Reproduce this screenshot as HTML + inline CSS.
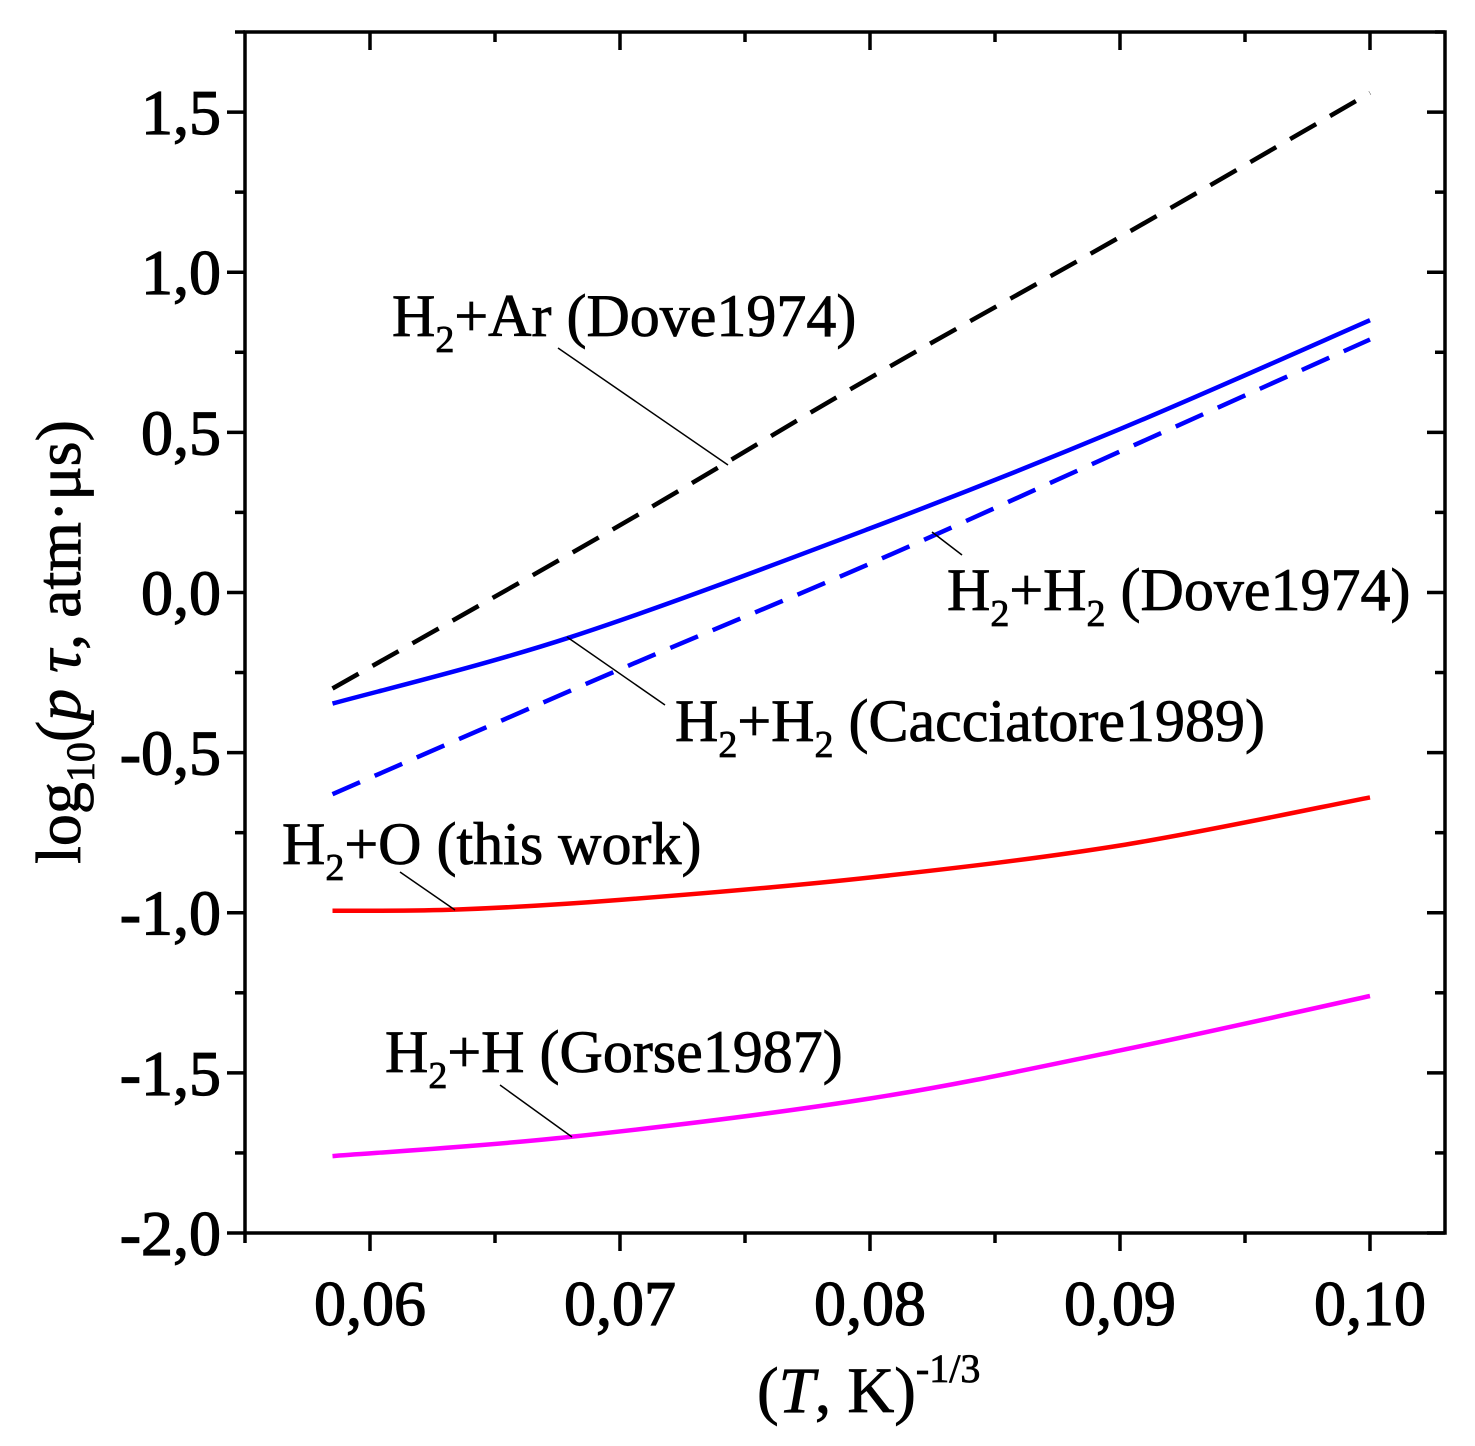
<!DOCTYPE html>
<html><head><meta charset="utf-8"><style>
body{margin:0;background:#fff}
text{font-family:"Liberation Serif",serif;fill:#000}
</style></head><body>
<svg id="chart" width="1475" height="1446" xmlns="http://www.w3.org/2000/svg" style="position:absolute;left:0;top:0">
<g id="axes"></g>
<g id="series"></g>
</svg>
<script>
const xTicks=[0.06,0.07,0.08,0.09,0.10];
const xTickLabels=["0,06","0,07","0,08","0,09","0,10"];
const yTicks=[-2,-1.5,-1,-0.5,0,0.5,1,1.5];
const yTickLabels=["-2,0","-1,5","-1,0","-0,5","0,0","0,5","1,0","1,5"];
const arX=[0.0585,0.07,0.08,0.09,0.1];
const arY=[-0.30,0.21,0.67,1.11,1.56];
const caccX=[0.0585,0.068,0.08,0.09,0.1];
const caccY=[-0.347,-0.14,0.20,0.51,0.85];
const doveX=[0.0585,0.07,0.08,0.09,0.1];
const doveY=[-0.63,-0.24,0.09,0.44,0.79];
const oX=[0.0585,0.0635,0.07,0.08,0.09,0.1];
const oY=[-0.994,-0.99,-0.96,-0.89,-0.79,-0.64];
const hX=[0.0585,0.068,0.08,0.09,0.1];
const hY=[-1.76,-1.70,-1.58,-1.43,-1.26];
const L=245,R=1445,T=32,B=1233,X0=0.055,X1=0.103,Y0=-2,Y1=1.75;
const sx=v=>L+(v-X0)/(X1-X0)*(R-L);
const sy=v=>B-(v-Y0)/(Y1-Y0)*(B-T);
const NS="http://www.w3.org/2000/svg";
function mk(tag,attrs,parent){const e=document.createElementNS(NS,tag);for(const k in attrs)e.setAttribute(k,attrs[k]);parent.appendChild(e);return e;}
const ax=document.getElementById('axes'),se=document.getElementById('series');
let fr=mk('rect',{x:L,y:T,width:R-L,height:B-T,fill:'none',stroke:'#000','stroke-width':3.5},ax);


xTicks.forEach((v,i)=>{const x=sx(v);
 mk('line',{x1:x,x2:x,y1:B,y2:B+18,stroke:'#000','stroke-width':3.5},ax);
 mk('line',{x1:x,x2:x,y1:T,y2:T+18,stroke:'#000','stroke-width':3.5},ax);
 if(i<xTicks.length-1){const m=sx(v+0.005);mk('line',{x1:m,x2:m,y1:B,y2:B+10,stroke:'#000','stroke-width':3.5},ax);mk('line',{x1:m,x2:m,y1:T,y2:T+10,stroke:'#000','stroke-width':3.5},ax);}
 const t=mk('text',{x:x,y:B+92,'text-anchor':'middle','font-size':64,stroke:'#000','stroke-width':1.2},ax);t.textContent=xTickLabels[i];
 
 
});
{const m=sx(0.055);mk('line',{x1:m,x2:m,y1:B,y2:B+10,stroke:'#000','stroke-width':3.5},ax);}
yTicks.forEach((v,i)=>{const y=sy(v);
 mk('line',{x1:L-18,x2:L,y1:y,y2:y,stroke:'#000','stroke-width':3.5},ax);
 mk('line',{x1:R-18,x2:R,y1:y,y2:y,stroke:'#000','stroke-width':3.5},ax);
 const m=sy(v+0.25);mk('line',{x1:L-10,x2:L,y1:m,y2:m,stroke:'#000','stroke-width':3.5},ax);mk('line',{x1:R-10,x2:R,y1:m,y2:m,stroke:'#000','stroke-width':3.5},ax);
 const t=mk('text',{x:L-24,y:y+22,'text-anchor':'end','font-size':64,stroke:'#000','stroke-width':1.2},ax);t.textContent=yTickLabels[i];
 
 
});
function line(xs,ys,color,dash,name){
 const P=xs.map((x,i)=>[sx(x),sy(ys[i])]);
 let d='M'+P[0][0].toFixed(1)+','+P[0][1].toFixed(1);
 for(let i=0;i<P.length-1;i++){
  const p0=P[i-1]||P[i],p1=P[i],p2=P[i+1],p3=P[i+2]||P[i+1];
  const c1=[p1[0]+(p2[0]-p0[0])/6,p1[1]+(p2[1]-p0[1])/6];
  const c2=[p2[0]-(p3[0]-p1[0])/6,p2[1]-(p3[1]-p1[1])/6];
  d+=' C'+c1.map(v=>v.toFixed(1)).join(',')+' '+c2.map(v=>v.toFixed(1)).join(',')+' '+p2.map(v=>v.toFixed(1)).join(',');
 }
 const p=mk('path',{d:d,fill:'none',stroke:color,'stroke-width':4.5},se);
 if(dash)p.setAttribute('stroke-dasharray','30,16');
 
 
}
line(arX,arY,'#000',true,'h2-ar-dove1974-line');
line(doveX,doveY,'#0000ff',true,'h2-h2-dove1974-line');
line(caccX,caccY,'#0000ff',false,'h2-h2-cacciatore1989-line');
line(oX,oY,'#ff0000',false,'h2-o-this-work-line');
line(hX,hY,'#ff00ff',false,'h2-h-gorse1987-line');
</script>
<svg style="position:absolute;left:0;top:0" width="1475" height="1446">
<g stroke="#000" stroke-width="1.5">
<line x1="558" y1="348" x2="728" y2="465"/>
<line x1="932" y1="532" x2="962" y2="555"/>
<line x1="567" y1="637" x2="665" y2="705"/>
<line x1="400" y1="872" x2="455" y2="910"/>
<line x1="500" y1="1085" x2="572" y2="1137"/>
</g>
<g font-family="Liberation Serif,serif" font-size="60" stroke="#000" stroke-width="0.8">
<text x="392" y="336">H<tspan font-size="38" dy="16">2</tspan><tspan dy="-16">+Ar (Dove1974)</tspan></text>
<text x="947" y="610">H<tspan font-size="38" dy="16">2</tspan><tspan dy="-16">+H</tspan><tspan font-size="38" dy="16">2</tspan><tspan dy="-16"> (Dove1974)</tspan></text>
<text x="675" y="741">H<tspan font-size="38" dy="16">2</tspan><tspan dy="-16">+H</tspan><tspan font-size="38" dy="16">2</tspan><tspan dy="-16"> (Cacciatore1989)</tspan></text>
<text x="282" y="864">H<tspan font-size="38" dy="16">2</tspan><tspan dy="-16">+O (this work)</tspan></text>
<text x="385" y="1072">H<tspan font-size="38" dy="16">2</tspan><tspan dy="-16">+H (Gorse1987)</tspan></text>
<text x="757" y="1412" font-size="65">(<tspan font-style="italic">T</tspan>, K)<tspan font-size="40" dy="-30">-1/3</tspan></text>
<text transform="translate(80,642) rotate(-90)" text-anchor="middle" font-size="64">log<tspan font-size="40" dy="14">10</tspan><tspan dy="-14">(</tspan><tspan font-style="italic">p τ</tspan>, atm·μs)</text>
</g>
</svg>
</body></html>
